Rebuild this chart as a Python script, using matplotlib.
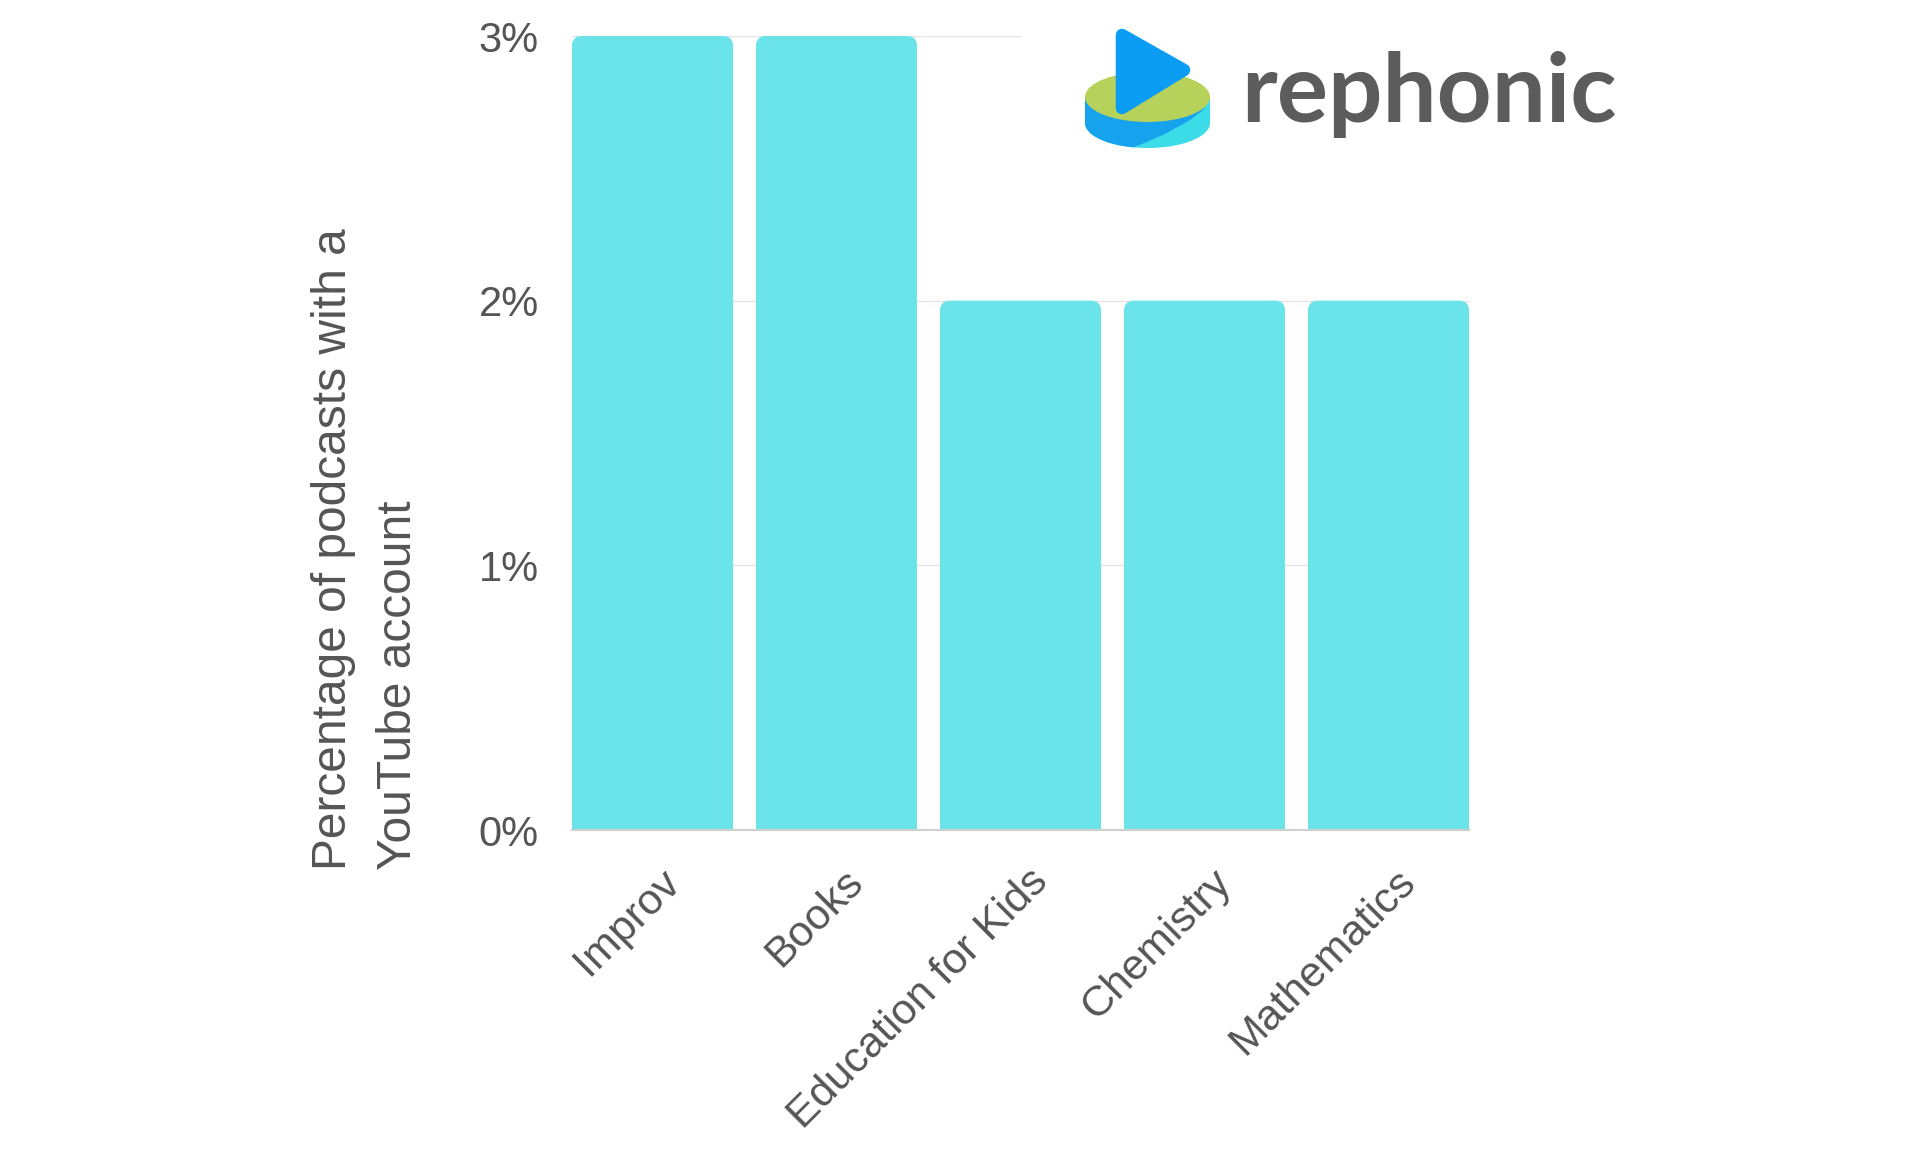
import numpy as np
import matplotlib
matplotlib.use("Agg")
import matplotlib.pyplot as plt
from matplotlib.patches import FancyBboxPatch, Ellipse, Polygon, PathPatch, Rectangle
from matplotlib.path import Path
from matplotlib.transforms import ScaledTranslation

# data
categories = ["Improv", "Books", "Education for Kids", "Chemistry", "Mathematics"]
values = [3, 3, 2, 2, 2]
yticks = [0, 1, 2, 3]
ytick_labels = ["0%", "1%", "2%", "3%"]
ylabel = "Percentage of podcasts with a\nYouTube account"

bar_color = "#6ae4e8"
text_color = "#555555"
W, H = 1920, 1150

plt.rcParams["font.family"] = ["Liberation Sans", "DejaVu Sans"]

fig = plt.figure(figsize=(19.2, 11.5), dpi=100)
ax = fig.add_axes([572 / W, 1 - 830 / H, 897 / W, 794 / H])

x = np.arange(len(categories))
width = 0.875
# squared-off lower half, rounded upper part
ax.bar(x, np.array(values) * 0.5, width=width, color=bar_color, zorder=2, linewidth=0)
for xi, v in zip(x, values):
    p = FancyBboxPatch((xi - width / 2, 0), width, v,
                       boxstyle="round,pad=0,rounding_size=0.054",
                       mutation_aspect=0.70, facecolor=bar_color,
                       edgecolor="none", zorder=2)
    ax.add_patch(p)

ax.set_xlim(-0.4375, len(categories) - 1 + 0.4375)
ax.set_ylim(0, 3)
ax.set_yticks(yticks)
ax.set_yticklabels(ytick_labels)
ax.grid(axis="y", color="#e4e4e4", linewidth=1.0, zorder=0)
ax.set_axisbelow(True)
for s in ["top", "right", "left"]:
    ax.spines[s].set_visible(False)
ax.spines["bottom"].set_color("#cfcfcf")
ax.spines["bottom"].set_linewidth(1.5)
ax.spines["bottom"].set_zorder(3)
ax.tick_params(axis="y", length=0, pad=24, labelsize=30, labelcolor=text_color)
ax.tick_params(axis="x", length=0, pad=33, labelsize=31, labelcolor=text_color)

ax.set_xticks(x)
ax.set_xticklabels(categories, rotation=45, ha="right", va="center",
                   rotation_mode="anchor")
offset = ScaledTranslation(0.21, 0, fig.dpi_scale_trans)
for lab in ax.get_xticklabels():
    lab.set_transform(lab.get_transform() + offset)

fig.text(366 / W, 1 - 549 / H, ylabel, rotation=90, ha="center", va="center",
         multialignment="left", fontsize=34.5, color=text_color, linespacing=1.55)

# logo (white box covers the top gridline)
lx0, lx1, ly1 = 1022, 1660, 170
lax = fig.add_axes([lx0 / W, 1 - ly1 / H, (lx1 - lx0) / W, ly1 / H], zorder=5)
lax.set_xlim(lx0, lx1)
lax.set_ylim(ly1, 0)
lax.axis("off")
lax.add_patch(Rectangle((lx0, 0), lx1 - lx0, ly1, facecolor="white", edgecolor="none"))

cx, cy_top, cy_bot, ew, eh = 1147.5, 97, 123, 125, 50
t = np.linspace(0, np.pi, 60)
arc = np.column_stack([cx - ew / 2 * np.cos(t), cy_bot + eh / 2 * np.sin(t)])
side_pts = np.vstack([[cx - ew / 2, cy_top], arc, [cx + ew / 2, cy_top], [cx - ew / 2, cy_top]])
side = PathPatch(Path(side_pts), facecolor="#3cdbe8", edgecolor="none")
lax.add_patch(side)
blue = Polygon([(1080, 90), (1215, 90), (1203, 110), (1190, 120), (1165, 134),
                (1130, 149), (1080, 152)], closed=True, facecolor="#17a2ee",
               edgecolor="none")
lax.add_patch(blue)
blue.set_clip_path(side)
lax.add_patch(Ellipse((cx, cy_top), ew, eh, facecolor="#b6d25a", edgecolor="none"))
lax.add_patch(Polygon([(1122, 35), (1184, 70), (1122, 108)], closed=True,
                      facecolor="#0a9df3", edgecolor="#0a9df3", linewidth=9,
                      joinstyle="round"))
lax.text(1241, 122, "rephonic", fontsize=69, fontweight="bold", color="#5c5c5c",
         family=["Lato", "DejaVu Sans"], ha="left", va="baseline")

fig.savefig("out.png", dpi=100, facecolor="white")
